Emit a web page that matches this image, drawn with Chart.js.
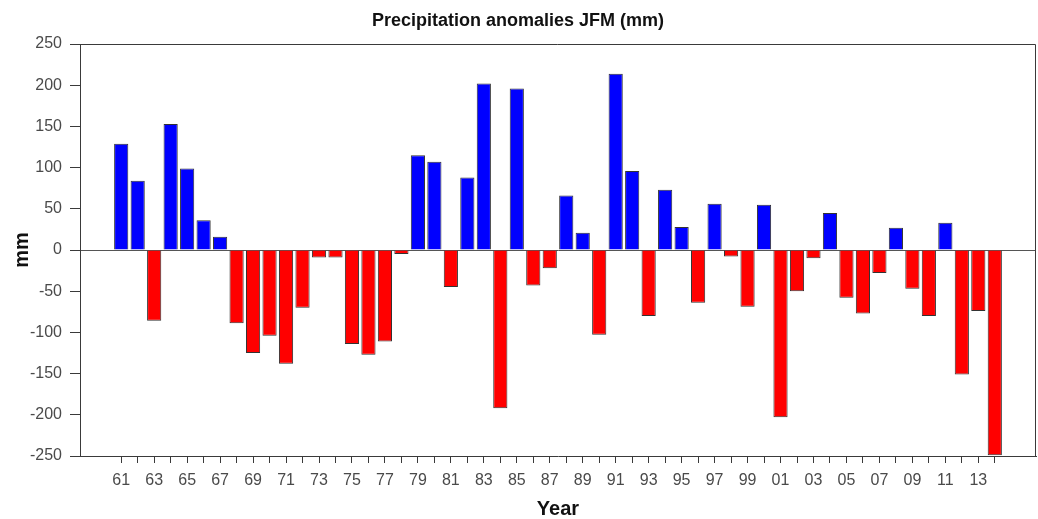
<!DOCTYPE html>
<html>
<head>
<meta charset="utf-8">
<script src="https://cdn.jsdelivr.net/npm/chart.js@4"></script>
<style>
  html, body { margin: 0; padding: 0; background: #fff; }
  #wrap { width: 1038px; height: 519px; }
</style>
</head>
<body>
<div id="wrap"><canvas id="anomChart"></canvas></div>
<script>
// JFM precipitation anomalies (mm), one bar per year
const years = [1961, 1962, 1963, 1964, 1965, 1966, 1967, 1968, 1969, 1970,
  1971, 1972, 1973, 1974, 1975, 1976, 1977, 1978, 1979, 1980,
  1981, 1982, 1983, 1984, 1985, 1986, 1987, 1988, 1989, 1990,
  1991, 1992, 1993, 1994, 1995, 1996, 1997, 1998, 1999, 2000,
  2001, 2002, 2003, 2004, 2005, 2006, 2007, 2008, 2009, 2010,
  2011, 2012, 2013, 2014];
const anomalies = [129, 84, -86, 153, 99, 36, 16, -89, -125, -104,
  -138, -70, -9, -9, -114, -127, -111, -5, 115, 107,
  -45, 88, 202, -192, 196, -43, -22, 66, 21, -103,
  214, 96, -80, 73, 28, -64, 56, -8, -69, 55,
  -203, -50, -10, 45, -58, -77, -28, 27, -47, -80,
  33, -151, -74, -249];
const yTicks = [250, 200, 150, 100, 50, 0, -50, -100, -150, -200, -250];

const axisColor = '#3a3a3a';
const labelColor = '#4a4a4a';

// top and right edges of the plot box
const frame = {
  id: 'frame',
  afterDraw(chart) {
    const { ctx, chartArea: a } = chart;
    ctx.save();
    ctx.strokeStyle = axisColor;
    ctx.lineWidth = 1;
    ctx.beginPath();
    ctx.moveTo(a.left, a.top + 0.5);
    ctx.lineTo(a.right - 0.5, a.top + 0.5);
    ctx.lineTo(a.right - 0.5, a.bottom);
    ctx.stroke();
    ctx.restore();
  }
};

new Chart(document.getElementById('anomChart'), {
  type: 'bar',
  data: {
    labels: years,
    datasets: [{
      data: anomalies,
      backgroundColor: anomalies.map(v => v >= 0 ? '#0000ff' : '#ff0000'),
      borderColor: '#333',
      borderWidth: 1,
      barPercentage: 0.86,
      categoryPercentage: 1
    }]
  },
  options: {
    responsive: true,
    maintainAspectRatio: false,
    animation: false,
    layout: { padding: { left: 0, right: 2, top: 0, bottom: 0 } },
    plugins: {
      legend: { display: false },
      tooltip: { enabled: false },
      title: {
        display: true,
        text: 'Precipitation anomalies JFM (mm)',
        color: '#111',
        font: { family: '"Liberation Sans", Arial, sans-serif', size: 18, weight: 'bold', lineHeight: 1 },
        padding: { top: 12, bottom: 14 }
      }
    },
    scales: {
      x: {
        type: 'linear',
        offset: false,
        min: 1958.5,
        max: 2016.5,
        afterBuildTicks: s => { s.ticks = years.map(v => ({ value: v })); },
        afterFit: s => { s.height = 63; },
        ticks: {
          autoSkip: false,
          maxRotation: 0,
          padding: 8,
          color: labelColor,
          font: { family: '"Liberation Sans", Arial, sans-serif', size: 16 },
          callback: v => (v % 2 === 1 ? String(v).slice(2) : '')
        },
        grid: { offset: false, drawOnChartArea: false, tickLength: 7, color: axisColor },
        border: { color: axisColor, width: 1 },
        title: {
          display: true,
          text: 'Year',
          color: '#111',
          font: { family: '"Liberation Sans", Arial, sans-serif', size: 20, weight: 'bold', lineHeight: 1 },
          padding: { top: 0, bottom: 0 }
        }
      },
      y: {
        min: -250,
        max: 250,
        afterBuildTicks: s => { s.ticks = yTicks.map(v => ({ value: v })); },
        afterFit: s => { s.width = 80; },
        ticks: {
          padding: 8,
          color: labelColor,
          font: { family: '"Liberation Sans", Arial, sans-serif', size: 16 }
        },
        grid: {
          tickLength: 10,
          tickColor: axisColor,
          color: c => (c.tick && c.tick.value === 0 ? '#555' : 'rgba(0,0,0,0)')
        },
        border: { color: axisColor, width: 1 },
        title: {
          display: true,
          text: 'mm',
          color: '#111',
          font: { family: '"Liberation Sans", Arial, sans-serif', size: 20, weight: 'bold', lineHeight: 1 },
          padding: { top: 12, bottom: 0 }
        }
      }
    }
  },
  plugins: [frame]
});
</script>
</body>
</html>
